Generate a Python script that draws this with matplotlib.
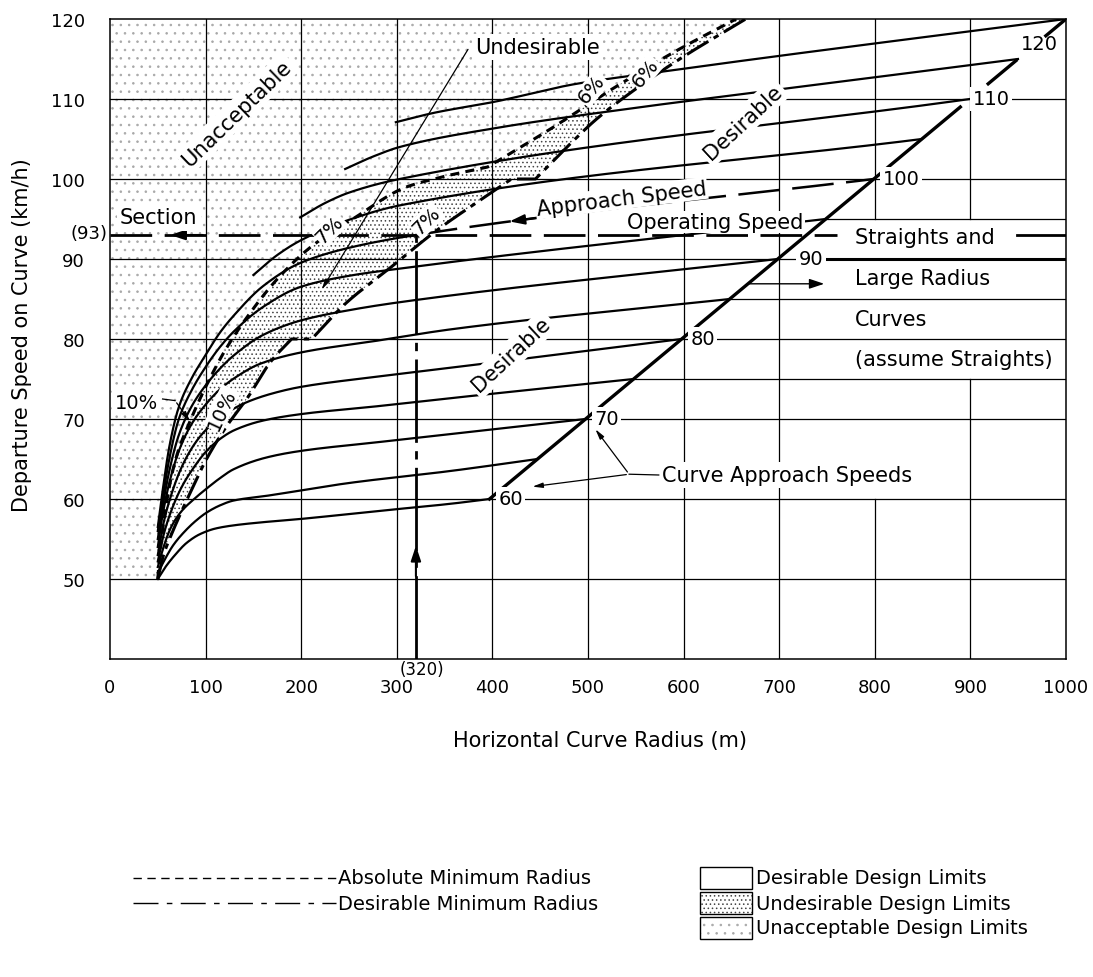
import numpy as np
import matplotlib
matplotlib.use("Agg")
import matplotlib.pyplot as plt
from matplotlib.patches import Polygon, Rectangle

plt.rcParams['font.family'] = ['DejaVu Sans']
plt.rcParams['lines.scale_dashes'] = False
plt.rcParams['hatch.linewidth'] = 0.6

# ------------------------------------------------------------------ data
radius_ticks = list(range(0, 1001, 100))
speed_ticks = list(range(50, 121, 10))

# departure speed = approach speed
diag_r = [397, 1000]
diag_v = [60, 120]

approach_speeds = [60, 65, 70, 75, 80, 85, 90, 95, 100, 105, 110, 115, 120]

# departure speed on curve for each approach speed (radius m, speed km/h)
r_60 = [50, 58, 68, 80, 94, 110, 129, 160, 199, 280, 356]
v_60 = [50, 51.5, 53, 54.5, 55.6, 56.3, 56.7, 57.1, 57.5, 58.5, 59.4]
r_65 = [50, 58, 66, 77, 90, 101, 115, 129, 164, 250, 356]
v_65 = [50.8, 52.6, 54.2, 55.8, 57.3, 58.3, 59.2, 59.8, 60.4, 62.0, 63.5]
r_70 = [50, 56, 64, 75, 88, 101, 115, 129, 164, 199, 280, 356]
v_70 = [51.5, 54, 56.5, 58.5, 60, 61.3, 62.6, 63.7, 65.2, 66, 67.1, 68.1]
r_75 = [50, 56, 64, 75, 88, 101, 115, 130, 160, 199, 280, 356]
v_75 = [52.2, 55.5, 58.5, 61.5, 64, 66, 67.5, 68.6, 69.8, 70.6, 71.6, 72.6]
r_80 = [50, 56, 64, 75, 88, 100, 120, 143, 170, 199, 280, 356]
v_80 = [53, 57, 60.5, 64, 66.8, 68.6, 70.6, 72.1, 73.2, 74, 75.3, 76.4]
r_85 = [50, 55, 62, 72, 85, 100, 115, 130, 157, 199, 280, 356]
v_85 = [54, 58, 62, 66, 69.3, 71.8, 73.7, 75.1, 76.9, 78.3, 79.8, 81.2]
r_90 = [50, 55, 62, 72, 85, 100, 115, 130, 160, 199, 250, 303]
v_90 = [55, 59, 63.5, 68, 71.5, 74.2, 76.3, 78, 80.5, 82.3, 83.6, 84.6]
r_95 = [50, 55, 62, 72, 85, 100, 115, 130, 160, 199, 250, 303]
v_95 = [56, 60, 65, 70, 73.5, 76.5, 79, 81, 84, 86.5, 87.9, 88.8]
r_100 = [50, 55, 62, 72, 85, 100, 115, 130, 160, 199, 250, 320]
v_100 = [56.5, 61, 66.5, 71.5, 75, 78, 80.8, 83, 86.6, 89.5, 91.4, 93]
r_105 = [150, 175, 199, 250, 303]
v_105 = [88, 90.5, 92.3, 94.9, 96.7]
r_110 = [199, 225, 250, 303]
v_110 = [95.2, 97, 98.3, 100]
r_115 = [246, 275, 303, 400, 550, 714]
v_115 = [101.25, 102.8, 104, 106.3, 108.9, 111.4]
r_120 = [299, 340, 400, 488, 589, 669]
v_120 = [107.1, 108.3, 109.6, 111.9, 113.6, 114.9]

# absolute minimum radius (10 % / 7 % then 6 % superelevation)
amr_a_r = [50, 52, 56, 62, 70, 84, 100, 120, 145, 175, 210, 254, 310, 352]
amr_a_v = [50, 53, 57, 61.5, 65.5, 69.8, 74, 78.5, 83, 87.5, 91.5, 95, 99, 100.4]
amr_b_r = [395, 460, 526, 595, 655]
amr_b_v = [101.5, 106.2, 111.3, 116.2, 120]

# desirable minimum radius for 10 %, 7 % and 6 % superelevation
dmr10_r = [50, 56, 64, 72, 82, 101, 122, 143, 169, 190]
dmr10_v = [50, 53, 55.5, 57.7, 60.3, 65, 69.1, 72.5, 77.3, 80]
dmr7_r = [211, 247, 290, 342, 384, 420]
dmr7_v = [80, 84.5, 88.6, 93.6, 97.1, 100]
dmr6_r = [445, 478, 509, 547, 596, 665]
dmr6_v = [100, 104, 107.5, 111, 115, 120]

# worked example: radius 320 m, approach 100 km/h -> 93 km/h
example_r = 320
example_v = 93

legend_lines = ["Absolute Minimum Radius", "Desirable Minimum Radius"]
legend_areas = ["Desirable Design Limits", "Undesirable Design Limits",
                "Unacceptable Design Limits"]

curve_r = [r_60, r_65, r_70, r_75, r_80, r_85, r_90, r_95, r_100,
           r_105, r_110, r_115, r_120]
curve_v = [v_60, v_65, v_70, v_75, v_80, v_85, v_90, v_95, v_100,
           v_105, v_110, v_115, v_120]


# ------------------------------------------------------------ helpers
def smooth(xp, yp, n=400):
    """Monotone cubic (Fritsch-Carlson) curve through the given points."""
    xp = np.asarray(xp, float)
    yp = np.asarray(yp, float)
    h = np.diff(xp)
    d = np.diff(yp) / h
    m = np.zeros_like(xp)
    m[0], m[-1] = d[0], d[-1]
    for k in range(1, len(xp) - 1):
        if d[k - 1] * d[k] <= 0:
            m[k] = 0.0
        else:
            w1 = 2 * h[k] + h[k - 1]
            w2 = h[k] + 2 * h[k - 1]
            m[k] = (w1 + w2) / (w1 / d[k - 1] + w2 / d[k])
    xs = np.linspace(xp[0], xp[-1], n)
    idx = np.clip(np.searchsorted(xp, xs) - 1, 0, len(h) - 1)
    t = (xs - xp[idx]) / h[idx]
    h00 = 2 * t**3 - 3 * t**2 + 1
    h10 = t**3 - 2 * t**2 + t
    h01 = -2 * t**3 + 3 * t**2
    h11 = t**3 - t**2
    ys = (h00 * yp[idx] + h10 * h[idx] * m[idx]
          + h01 * yp[idx + 1] + h11 * h[idx] * m[idx + 1])
    return xs, ys


def diag_x(v):
    return np.interp(v, diag_v, diag_r)


W, H = 1093, 978
fig = plt.figure(figsize=(W / 100, H / 100), dpi=100)
ax = fig.add_axes([110 / W, 1 - 660 / H, 956 / W, 640 / H])
ax.set_xlim(0, 1000)
ax.set_ylim(40, 120)
ax.set_xticks(radius_ticks)
ax.set_yticks(speed_ticks)
ax.tick_params(length=0, labelsize=13)
ax.tick_params(axis='x', pad=14)
ax.tick_params(axis='y', pad=18)
for s in ax.spines.values():
    s.set_linewidth(1.1)

LW_GRID = 0.9
# vertical grid (broken where the notes sit)
for xv in radius_ticks[1:-1]:
    if xv == 800:
        ax.plot([xv, xv], [40, 60], color='k', lw=LW_GRID, zorder=1)
        ax.plot([xv, xv], [95, 120], color='k', lw=LW_GRID, zorder=1)
    elif xv == 900:
        ax.plot([xv, xv], [40, 75], color='k', lw=LW_GRID, zorder=1)
        ax.plot([xv, xv], [95, 120], color='k', lw=LW_GRID, zorder=1)
    else:
        ax.axvline(xv, color='k', lw=LW_GRID, zorder=1)
for yv in speed_ticks[:-1]:
    ax.axhline(yv, color='k', lw=LW_GRID, zorder=1)
# straights / large radius panel
for yv in (95, 85, 75):
    ax.plot([diag_x(yv), 1000], [yv, yv], color='k', lw=LW_GRID, zorder=1)
ax.plot([746, 1000], [90, 90], color='k', lw=2.2, zorder=2)

# ------------------------------------------------------------ regions
amr_ax, amr_ay = smooth(amr_a_r, amr_a_v)
amr_bx, amr_by = smooth(amr_b_r, amr_b_v)
amr_x = np.r_[amr_ax, amr_bx]
amr_y = np.r_[amr_ay, amr_by]

d10x, d10y = smooth(dmr10_r, dmr10_v)
d7x, d7y = smooth(dmr7_r, dmr7_v)
d6x, d6y = smooth(dmr6_r, dmr6_v)
dmr_x = np.r_[d10x, d7x, d6x]
dmr_y = np.r_[d10y, d7y, d6y]

unacc = np.column_stack([np.r_[0, amr_x, 0], np.r_[50, amr_y, 120]])
ax.add_patch(Polygon(unacc, closed=True, facecolor='none', edgecolor='#a8a8a8',
                     hatch='..', lw=0, zorder=0.5))
undes = np.column_stack([np.r_[amr_x, dmr_x[::-1]], np.r_[amr_y, dmr_y[::-1]]])
ax.add_patch(Polygon(undes, closed=True, facecolor='none', edgecolor='#444444',
                     hatch='....', lw=0, zorder=0.5))

ax.plot(amr_x, amr_y, color='k', lw=2.2, dashes=(6.5, 4.5), zorder=4)
ax.plot(dmr_x, dmr_y, color='k', lw=2.2, dashes=(18, 4.5, 4, 4.5), zorder=4)

# ------------------------------------------------------------ curves
for va, rr, vv in zip(approach_speeds, curve_r, curve_v):
    xs, ys = smooth(list(rr) + [diag_x(va)], list(vv) + [va], n=700)
    if va == 100:
        solid = xs <= example_r
        ax.plot(xs[solid], ys[solid], color='k', lw=1.6, zorder=3)
        ax.plot(xs[~solid], ys[~solid], color='k', lw=1.8,
                dashes=(30, 9), zorder=3)
        v100 = lambda r, xs=xs, ys=ys: float(np.interp(r, xs, ys))
    else:
        ax.plot(xs, ys, color='k', lw=1.6, zorder=3)

# approach = departure line, broken around the two top labels
for lo, hi in ((60, 109), (111.9, 114.8), (117.9, 120)):
    ax.plot([diag_x(lo), diag_x(hi)], [lo, hi], color='k', lw=2.4, zorder=5)

lab_box = dict(boxstyle='square,pad=0.12', fc='white', ec='none')
for va in (60, 70, 80, 90, 100):
    dx = 22 if va == 90 else 9
    ax.text(diag_x(va) + dx, va, str(va), fontsize=14, ha='left', va='center',
            bbox=lab_box, zorder=6)
ax.text(diag_x(110) + 3, 110, "110", fontsize=14, ha='left', va='center',
        bbox=lab_box, zorder=6)
ax.text(diag_x(120) - 47, 116.9, "120", fontsize=14, ha='left', va='center',
        zorder=6)

# worked example
ax.plot([example_r, example_r], [40, example_v], color='k', lw=2.0,
        dashes=(60, 6, 6, 6), zorder=5)
ax.annotate('', xy=(example_r, 54.5), xytext=(example_r, 50),
            arrowprops=dict(arrowstyle='-|>,head_length=0.9,head_width=0.3',
                            color='k', lw=1.5), zorder=6)
ax.plot([0, 760], [example_v, example_v], color='k', lw=2.0,
        dashes=(30, 9), zorder=5)
ax.plot([949, 1000], [example_v, example_v], color='k', lw=2.0, zorder=5)
ax.annotate('', xy=(60, example_v), xytext=(100, example_v),
            arrowprops=dict(arrowstyle='-|>,head_length=0.9,head_width=0.3',
                            color='k', lw=1.5), zorder=6)
ax.annotate('', xy=(415, v100(415)), xytext=(450, v100(450)),
            arrowprops=dict(arrowstyle='-|>,head_length=0.9,head_width=0.3',
                            color='k', lw=1.5), zorder=6)
ax.text(-3, example_v + 0.3, "(93)", fontsize=13, ha='right', va='center',
        clip_on=False)
ax.annotate("(320)", xy=(example_r, 40), xytext=(-12, -1),
            textcoords='offset points', fontsize=12, ha='left', va='top',
            annotation_clip=False)

# ------------------------------------------------------------ notes
TXT = 15
txt_box = dict(boxstyle='square,pad=0.15', fc='white', ec='none')
ax.text(133, 108.3, "Unacceptable", fontsize=TXT, rotation=44, ha='center',
        va='center', bbox=txt_box, zorder=6)
ax.text(382, 116.5, "Undesirable", fontsize=TXT, ha='left', va='center',
        bbox=txt_box, zorder=6)
ax.annotate('', xy=(220, 85.9), xytext=(376, 116.5),
            arrowprops=dict(arrowstyle='-|>,head_length=0.6,head_width=0.15',
                            color='k', lw=0.9), zorder=6)
ax.text(662, 107.1, "Desirable", fontsize=TXT, rotation=43, ha='center',
        va='center', bbox=txt_box, zorder=6)
ax.text(420, 78.1, "Desirable", fontsize=TXT, rotation=43, ha='center',
        va='center', bbox=txt_box, zorder=6)
ax.text(535, 97.6, "Approach Speed", fontsize=TXT, rotation=7, ha='center',
        va='center', bbox=dict(boxstyle='square,pad=0.05', fc='white', ec='none'),
        zorder=6)
ax.text(541, 94.6, "Operating Speed", fontsize=TXT, ha='left', va='center',
        bbox=dict(boxstyle='square,pad=0.05', fc='white', ec='none'), zorder=6)
ax.text(51, 95.2, "Section", fontsize=TXT, ha='center', va='center',
        bbox=txt_box, zorder=6)

for txt, yv in (("Straights and", 92.75), ("Large Radius", 87.6),
                ("Curves", 82.5), ("(assume Straights)", 77.5)):
    ax.text(779, yv, txt, fontsize=TXT, ha='left', va='center',
            bbox=txt_box, zorder=6)
ax.annotate('', xy=(750, 86.9), xytext=(666, 86.9),
            arrowprops=dict(arrowstyle='-|>,head_length=0.9,head_width=0.3',
                            color='k', lw=1.0), zorder=6)

ax.text(577, 63.0, "Curve Approach Speeds", fontsize=TXT, ha='left',
        va='center', bbox=txt_box, zorder=6)
ax.plot([543, 574], [63.1, 63.0], color='k', lw=0.9, zorder=6)
for tip in ((506, 69.0), (439, 61.5)):
    ax.annotate('', xy=tip, xytext=(543, 63.1),
                arrowprops=dict(arrowstyle='-|>,head_length=0.6,head_width=0.15',
                                color='k', lw=0.9), zorder=6)

pct_box = dict(boxstyle='square,pad=0.05', fc='white', ec='none')
ax.text(28, 72.1, "10%", fontsize=14, ha='center', va='center', bbox=txt_box,
        zorder=6)
ax.plot([55, 68], [72.5, 72.3], color='k', lw=0.9, zorder=6)
ax.annotate('', xy=(85.5, 69.4), xytext=(68, 72.3),
            arrowprops=dict(arrowstyle='-|>,head_length=0.6,head_width=0.15',
                            color='k', lw=0.9), zorder=6)
ax.text(117, 71.25, "10%", fontsize=14, rotation=65, ha='center', va='center',
        bbox=pct_box, zorder=6)
ax.text(230, 93.75, "7%", fontsize=14, rotation=45, ha='center', va='center',
        bbox=pct_box, zorder=6)
ax.text(331, 94.8, "7%", fontsize=14, rotation=45, ha='center', va='center',
        bbox=pct_box, zorder=6)
ax.text(504, 111.25, "6%", fontsize=14, rotation=50, ha='center', va='center',
        bbox=pct_box, zorder=6)
ax.text(560, 113.3, "6%", fontsize=14, rotation=50, ha='center', va='center',
        bbox=pct_box, zorder=6)

# axis titles
fig.text(600 / W, 1 - 741 / H, "Horizontal Curve Radius (m)", fontsize=15,
         ha='center', va='center')
fig.text(22 / W, 1 - 335 / H, "Departure Speed on Curve (km/h)", fontsize=15,
         ha='center', va='center', rotation=90)

# ------------------------------------------------------------ legend
lg = fig.add_axes([0, 0, 1, 1])
lg.set_xlim(0, W)
lg.set_ylim(H, 0)
lg.axis('off')
lg.plot([133, 336], [879, 879], color='k', lw=1.0, dashes=(6, 4))
lg.plot([133, 336], [904, 904], color='k', lw=1.0, dashes=(18, 6, 4, 6))
for i, name in enumerate(legend_lines):
    lg.text(338, 879 + 25 * i, name, fontsize=14, ha='left', va='center')
hatches = [None, '....', '..']
hcolors = ['k', '#444444', '#a8a8a8']
for i, name in enumerate(legend_areas):
    y0 = 868 + 25 * i
    if hatches[i]:
        lg.add_patch(Rectangle((700, y0), 52, 22, facecolor='none',
                               edgecolor=hcolors[i], hatch=hatches[i], lw=0))
    lg.add_patch(Rectangle((700, y0), 52, 22, facecolor='none',
                           edgecolor='k', lw=1.0))
    lg.text(756, y0 + 11, name, fontsize=14, ha='left', va='center')

fig.savefig("out.png", dpi=100)
